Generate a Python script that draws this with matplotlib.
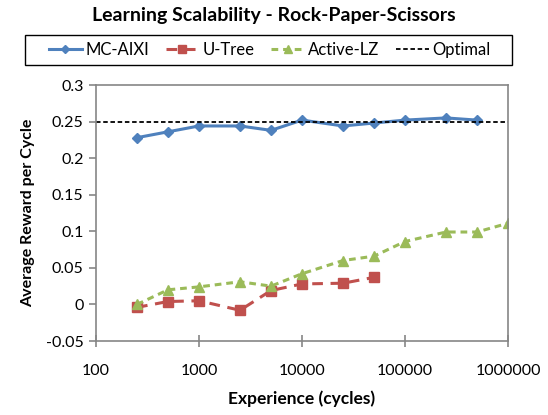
import numpy as np
import matplotlib.pyplot as plt
from matplotlib.patches import Rectangle

plt.rcParams['font.family'] = ['Lato', 'DejaVu Sans']

# experience (cycles)
x_all = [250, 500, 1000, 2500, 5000, 10000, 25000, 50000, 100000, 250000, 500000, 1000000]

mc_aixi = [0.228, 0.236, 0.244, 0.244, 0.238, 0.252, 0.244, 0.248, 0.252, 0.255, 0.252]
u_tree = [-0.004, 0.004, 0.005, -0.008, 0.019, 0.028, 0.029, 0.037]
active_lz = [0.0, 0.020, 0.024, 0.031, 0.025, 0.042, 0.060, 0.066, 0.086, 0.099, 0.099, 0.111]
optimal = 0.25

blue = '#4F81BD'
red = '#C0504D'
green = '#9BBB59'
grey = '#868686'

fig = plt.figure(figsize=(5.48, 4.15), dpi=100)
ax = fig.add_axes([96/548, 1-341/415, (508-96)/548, (341-85)/415])

ax.plot(x_all[:len(mc_aixi)], mc_aixi, color=blue, lw=2.2, marker='D', ms=5.5,
        label='MC-AIXI')
ax.plot(x_all[:len(u_tree)], u_tree, color=red, lw=2.2, ls=(0, (3.5, 2.5)), marker='s',
        ms=7, label='U-Tree')
ax.plot(x_all, active_lz, color=green, lw=2.2, ls=(0, (2.2, 1.6)), marker='^',
        ms=7, label='Active-LZ')
ax.axhline(optimal, color='black', lw=1.3, ls=(0, (2.5, 1.5)), label='Optimal')

ax.set_xscale('log')
ax.set_xlim(100, 1000000)
ax.set_ylim(-0.05, 0.3)
ax.set_xticks([100, 1000, 10000, 100000, 1000000])
ax.set_xticklabels(['100', '1000', '10000', '100000', '1000000'])
ax.xaxis.set_minor_locator(plt.NullLocator())
ax.set_yticks(np.arange(-0.05, 0.301, 0.05))
ax.set_yticklabels(['-0.05', '0', '0.05', '0.1', '0.15', '0.2', '0.25', '0.3'])

for s in ax.spines.values():
    s.set_color(grey)
    s.set_linewidth(1.2)
ax.tick_params(axis='x', direction='inout', length=9, width=1.2, color=grey,
               labelsize=11.5, pad=12)
ax.tick_params(axis='y', direction='out', length=5, width=1.2, color=grey,
               labelsize=11.5, pad=4)

ax.set_xlabel('Experience (cycles)', fontsize=12.5, fontweight='bold', labelpad=9)
ax.set_ylabel('Average Reward per Cycle', fontsize=11.5, fontweight='bold', labelpad=8)

fig.text(0.5, 1-16/415, 'Learning Scalability - Rock-Paper-Scissors', ha='center',
         va='center', fontsize=14, fontweight='bold')

# legend box drawn by hand (wide side padding like the original)
fig.patches.append(Rectangle((25/548, 1-65/415), (512-25)/548, 30/415,
                             transform=fig.transFigure, fill=False,
                             edgecolor='black', lw=1.0))
fig.legend(loc='center', bbox_to_anchor=(269.5/548, 1-50/415), ncol=4,
           frameon=False, fontsize=12, handlelength=2.0, columnspacing=1.0,
           handletextpad=0.2, borderpad=0.2, markerscale=0.8)

fig.savefig('out.png', dpi=100)
